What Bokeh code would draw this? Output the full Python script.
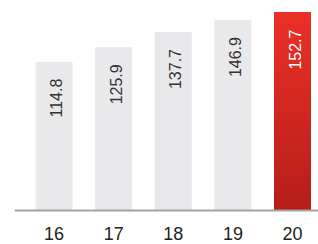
import numpy as np
from bokeh.plotting import figure
from bokeh.models import ColumnDataSource, Range1d, Span
from bokeh.core.properties import value
from bokeh.embed import file_html
from bokeh.resources import INLINE

years = ["16", "17", "18", "19", "20"]
values = [114.8, 125.9, 137.7, 146.9, 152.7]
highlight = [False, False, False, False, True]

FONT = "Liberation Sans"
GREY_BAR = "#e9e9eb"
RED_TOP = (234, 48, 39)
RED_BOT = (182, 30, 26)

xs = list(range(len(years)))

p = figure(frame_width=304, frame_height=244, output_backend="svg", toolbar_location=None,
           x_range=Range1d(-0.663, 4.436), y_range=Range1d(-26.2, 162.0),
           min_border_left=14, min_border_right=0, min_border_top=0, min_border_bottom=0,
           x_axis_location=None, y_axis_location=None)
p.outline_line_color = None
p.xgrid.visible = False
p.ygrid.visible = False
p.background_fill_color = "white"
p.border_fill_color = "white"

W = 0.62
# grey bars
gx = [x for x, h in zip(xs, highlight) if not h]
gv = [v for v, h in zip(values, highlight) if not h]
p.vbar(x=gx, top=gv, bottom=0, width=W, fill_color=GREY_BAR, line_color=None)

# highlighted bar with a vertical gradient built from overlapping slices
N = 50
for x, v, h in zip(xs, values, highlight):
    if not h:
        continue
    bots = [v * i / N for i in range(N)]
    cols = []
    for i in range(N):
        t = i / (N - 1)
        c = tuple(int(round(RED_BOT[k] + (RED_TOP[k] - RED_BOT[k]) * t)) for k in range(3))
        cols.append("#%02x%02x%02x" % c)
    p.vbar(x=[x] * N, top=[v] * N, bottom=bots, width=W, fill_color=cols, line_color=None)

# baseline
p.add_layout(Span(location=0, dimension="width", line_color="#a3a3a3", line_width=2))

# value labels
src = ColumnDataSource(dict(x=xs, y=values, t=["%.1f" % v for v in values],
                            c=["white" if h else "#333333" for h in highlight]))
p.text(x="x", y="y", text="t", source=src, angle=np.pi / 2,
       text_align="right", text_baseline="middle", y_offset=17, x_offset=2,
       text_font=value(FONT), text_font_size="16px", text_color="c")

# category labels under the baseline
lsrc = ColumnDataSource(dict(x=xs, y=[0] * len(xs), t=years))
p.text(x="x", y="y", text="t", source=lsrc, text_align="center",
       text_baseline="alphabetic", y_offset=23,
       text_font=value(FONT), text_font_size="18px", text_color="#222222")

open("out.html", "w").write(file_html(p, INLINE))
